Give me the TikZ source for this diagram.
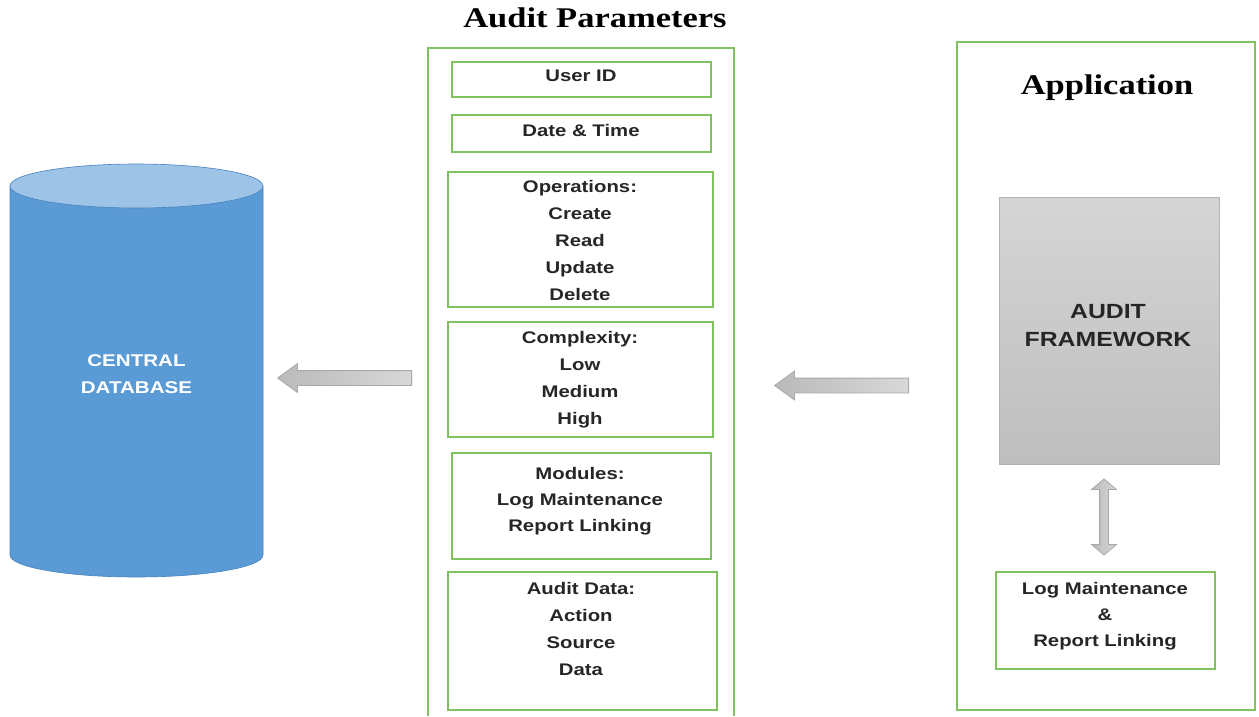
\documentclass[tikz,border=0pt]{standalone}
\usepackage{fontspec}
\setmainfont[FakeStretch=1.21]{Liberation Serif}
\newfontfamily\labfont[FakeStretch=1.21]{Liberation Sans}
\usetikzlibrary{shapes.arrows}

\definecolor{frame}{RGB}{128,194,96}
\definecolor{ink}{RGB}{38,38,38}
\definecolor{dbbody}{RGB}{91,155,213}
\definecolor{dbtop}{RGB}{157,195,230}
\definecolor{dbline}{RGB}{70,130,190}
\definecolor{arrdark}{RGB}{186,186,186}
\definecolor{arrlight}{RGB}{216,216,216}
\definecolor{arredge}{RGB}{168,168,168}
\definecolor{fwtop}{RGB}{213,213,213}
\definecolor{fwbottom}{RGB}{190,190,190}
\definecolor{fwedge}{RGB}{178,178,178}

\tikzset{
  pbox/.style={draw=frame, line width=2pt, inner sep=0pt},
  lab/.style={font=\labfont\bfseries\fontsize{16.8}{27}\selectfont, text=ink,
              align=center, inner sep=0pt, anchor=north},
  title/.style={font=\bfseries\fontsize{28.5}{30}\selectfont, text=black,
                inner sep=0pt, anchor=base},
  blockarrow/.style={single arrow, draw=arredge, line width=0.8pt,
                     left color=arrdark, right color=arrlight,
                     inner sep=7pt, single arrow head extend=7pt,
                     single arrow tip angle=72, shape border rotate=180,
                     minimum height=134pt, anchor=tail},
}

\begin{document}
\begin{tikzpicture}[x=1pt,y=-1pt]
\useasboundingbox (0,0) rectangle (1259,716);

% ---------- central database cylinder ----------
\fill[dbbody] (10,186) -- (10,555) arc[start angle=180, end angle=0, x radius=126.5, y radius=22]
      -- (263,186) -- cycle;
\draw[dbline, line width=0.6pt] (10,186) -- (10,555)
      arc[start angle=180, end angle=0, x radius=126.5, y radius=22] -- (263,186);
\filldraw[fill=dbtop, draw=dbline, line width=0.6pt] (136.5,186) ellipse[x radius=126.5, y radius=22];
\node[lab, text=white, font=\labfont\bfseries\fontsize{17}{27}\selectfont] (db) at (136.5,354)
      {CENTRAL\\DATABASE};

% ---------- audit parameters column ----------
\node[title] (ptitle) at (595,27) {Audit Parameters};
\draw[frame, line width=2pt] (428,716) -- (428,48) -- (734,48) -- (734,716);

\node[pbox, minimum width=259pt, minimum height=35pt] (uid) at (581.5,79.5) {};
\node[lab] at (581,70) {User ID};

\node[pbox, minimum width=259pt, minimum height=37pt] (dt) at (581.5,133.5) {};
\node[lab] at (581,124) {Date \& Time};

\node[pbox, minimum width=265pt, minimum height=135pt] (ops) at (580.5,239.5) {};
\node[lab] at (580,180) {Operations:\\Create\\Read\\Update\\Delete};

\node[pbox, minimum width=265pt, minimum height=115pt] (cx) at (580.5,379.5) {};
\node[lab] at (580,331) {Complexity:\\Low\\Medium\\High};

\node[pbox, minimum width=259pt, minimum height=106pt] (mod) at (581.5,506) {};
\node[lab, font=\labfont\bfseries\fontsize{16.8}{26}\selectfont] at (580,467)
      {Modules:\\Log Maintenance\\Report Linking};

\node[pbox, minimum width=269pt, minimum height=138pt] (ad) at (582.5,641) {};
\node[lab] at (581,582) {Audit Data:\\Action\\Source\\Data};

% ---------- application column ----------
\node[pbox, minimum width=298pt, minimum height=668pt] (app) at (1106,376) {};
\node[title] (atitle) at (1107,94) {Application};

\node[draw=fwedge, line width=0.8pt, top color=fwtop, bottom color=fwbottom,
      minimum width=220pt, minimum height=267pt, inner sep=0pt] (fw) at (1109,330.5) {};
\node[lab, font=\labfont\bfseries\fontsize{20.5}{28}\selectfont, text=ink] at (1108,304)
      {AUDIT\\FRAMEWORK};

\node[pbox, minimum width=219pt, minimum height=97pt] (log) at (1105.5,620.5) {};
\node[lab, font=\labfont\bfseries\fontsize{16.8}{26}\selectfont] at (1105,582)
      {Log Maintenance\\\&\\Report Linking};

% ---------- arrows ----------
\coordinate (parL) at (412,378);
\coordinate (appL) at (909,385.5);
\node[blockarrow] (toDb) at (parL) {};
\node[blockarrow] (toPar) at (appL) {};
\node[double arrow, draw=arredge, line width=0.8pt,
      left color=arrdark, right color=arrlight,
      inner sep=4pt, double arrow head extend=8pt, double arrow tip angle=100,
      shape border rotate=90, minimum height=76pt] (fwlog) at (1104,517) {};
\end{tikzpicture}
\end{document}
